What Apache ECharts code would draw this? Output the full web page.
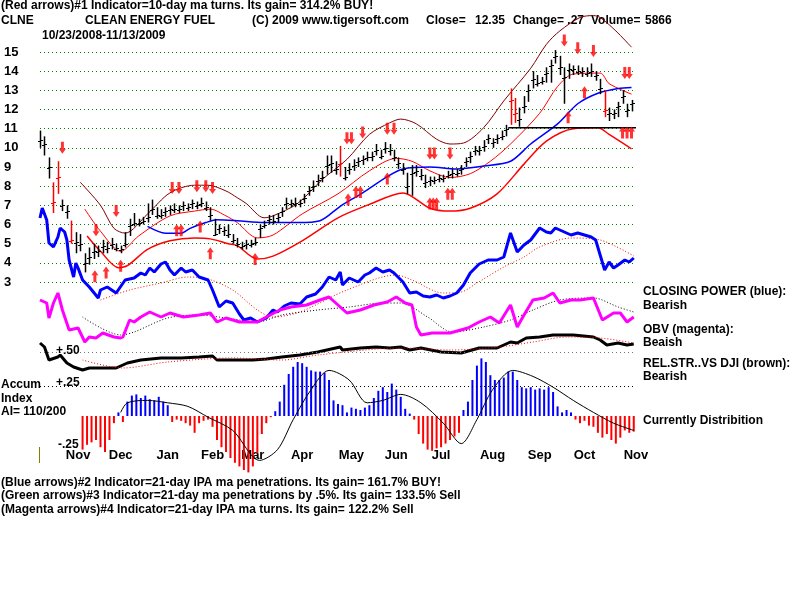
<!DOCTYPE html>
<html>
<head>
<meta charset="utf-8">
<script src="https://cdn.jsdelivr.net/npm/echarts/dist/echarts.min.js"></script>
<style>html,body{margin:0;padding:0;background:#fff}#main{width:800px;height:600px}</style>
</head>
<body>
<div id="main"></div>
<script>
// daily bars sampled every 2 trading days, x = trading day index
var barStep = 2;
var priceClose = [10.4,10.2,9.0,7.2,8.5,7.0,6.7,5.2,5.1,5.0,
  4.0,4.3,4.6,4.6,4.9,4.8,5.0,4.8,4.7,5.0,
  6.0,6.1,6.1,6.2,6.4,6.8,6.5,6.5,6.7,6.8,
  6.8,6.8,7.0,6.9,7.1,7.0,7.1,6.9,6.5,5.5,
  5.8,5.7,5.5,5.2,5.0,4.9,5.0,5.0,5.1,5.8,
  6.0,6.3,6.2,6.4,6.7,7.1,7.1,7.1,7.1,7.4,
  7.8,8.0,8.3,8.5,9.1,9.2,8.9,9.2,8.5,8.9,
  9.1,9.3,9.4,9.5,9.6,9.9,9.6,10.0,9.9,9.5,
  9.2,8.9,8.0,8.7,8.8,8.6,8.2,8.3,8.3,8.4,
  8.4,8.6,8.7,8.7,8.9,9.3,9.6,9.9,9.9,10.1,
  10.5,10.3,10.5,10.6,11.0,12.5,11.8,11.5,12.2,13.0,
  13.6,13.4,13.5,13.9,14.3,14.8,14.2,13.7,14.1,14.1,
  14.0,14.0,13.9,14.0,13.8,13.1,12.0,11.8,11.8,12.2,
  12.7,12.0,12.35];
var priceHigh = [10.9,10.6,9.5,8.2,9.3,7.3,7.0,6.2,5.6,5.5,
  4.5,4.8,5.0,4.9,5.2,5.1,5.3,5.0,4.9,5.6,
  6.3,6.6,6.3,6.4,7.1,7.3,6.9,6.8,6.9,7.0,
  7.1,7.0,7.2,7.1,7.3,7.2,7.4,7.2,6.9,6.3,
  6.0,5.9,6.0,5.5,5.3,5.1,5.2,5.2,5.3,6.0,
  6.2,6.5,6.5,6.6,6.9,7.4,7.3,7.4,7.3,7.6,
  8.0,8.3,8.6,8.8,9.6,9.6,9.3,10.1,9.0,9.2,
  9.4,9.5,9.6,9.8,9.8,10.2,9.9,10.3,10.2,9.9,
  9.5,9.2,8.7,9.1,9.1,8.9,8.6,8.5,8.5,8.6,
  8.6,8.8,8.9,8.9,9.1,9.5,9.8,10.1,10.1,10.4,
  10.7,10.5,10.7,10.9,11.2,13.1,12.6,12.1,12.7,13.3,
  14.0,13.8,13.7,14.2,14.6,15.1,14.8,14.2,14.4,14.3,
  14.3,14.2,14.2,14.4,14.0,13.6,13.0,12.1,12.0,12.4,
  13.0,12.3,12.5];
var priceLow = [10.0,9.6,8.4,6.6,7.6,6.7,6.3,5.0,4.5,4.6,
  3.5,3.9,4.2,4.3,4.5,4.5,4.7,4.6,4.5,4.8,
  5.4,5.9,5.9,6.0,6.1,6.5,6.3,6.3,6.4,6.5,
  6.6,6.6,6.7,6.7,6.8,6.8,6.9,6.7,6.2,5.4,
  5.5,5.4,5.3,5.0,4.8,4.7,4.7,4.8,4.9,5.3,
  5.8,6.0,6.0,6.1,6.4,6.8,6.9,6.9,6.9,7.1,
  7.5,7.7,8.0,8.2,8.6,8.7,8.6,8.5,8.3,8.6,
  8.8,9.0,9.1,9.3,9.3,9.6,9.4,9.7,9.6,9.3,
  8.9,8.6,7.6,7.5,8.5,8.3,7.9,8.0,8.1,8.2,
  8.2,8.4,8.4,8.5,8.6,9.0,9.2,9.6,9.6,9.8,
  10.2,10.0,10.2,10.4,10.6,11.2,11.3,11.1,11.8,12.4,
  13.1,13.2,13.3,13.4,13.4,14.4,13.8,12.3,13.6,13.8,
  13.8,13.7,13.7,13.7,13.5,12.8,11.6,11.4,11.5,11.6,
  12.3,11.6,11.9];
var redBarIdx = [3,4,7,67,105,106,126];

// bands and moving averages: [day index, price]
var upperBand = [[18,8.2],[27,7.0],[33,5.8],[38,5.55],[48,6.55],[58,7.65],[69,8.05],[75,8.05],[83,7.75],[88,7.4],[92,7.1],[100,6.35],[104,6.45],[115,7.1],[126,8.35],[137,9.4],[147,10.7],[156,11.3],[161,11.5],[168,11.25],[177,10.45],[183,10.2],[189,10.25],[198,11.05],[207,12.45],[219,14.15],[226,15.4],[232,16.1],[241,16.8],[247,16.9],[250,16.8],[257,16.1],[264,15.25]];
var midMA = [[20,6.8],[27,5.65],[36,4.6],[44,5.4],[58,6.45],[69,6.7],[76,6.8],[83,6.45],[88,6.1],[97,5.3],[104,5.45],[117,6.55],[133,7.6],[147,8.8],[159,9.45],[166,9.3],[174,8.8],[183,8.45],[192,8.65],[201,9.3],[210,10.2],[223,11.8],[231,13.2],[238,13.85],[250,13.9],[254,13.35],[264,12.8]];
var lowerBand = [[21,5.4],[27,4.6],[35,3.75],[39,3.85],[48,4.7],[58,5.15],[69,5.3],[76,5.25],[84,5.0],[88,4.9],[97,4.2],[104,4.35],[117,5.15],[133,6.35],[147,7.05],[162,7.65],[174,6.85],[183,6.7],[192,6.85],[204,7.6],[216,9.15],[226,10.35],[238,11.0],[249,11.05],[254,10.7],[264,9.95]];
var longMA = [[48,5.9],[56,5.55],[63,5.55],[67,5.8],[74,6.1],[79,6.25],[88,6.2],[100,6.1],[115,6.1],[125,6.2],[134,6.95],[144,7.65],[155,8.5],[162,8.9],[174,9.0],[186,8.9],[198,9.05],[210,9.3],[219,10.2],[231,11.25],[240,12.3],[249,12.85],[258,13.1],[264,13.15]];
var supportLine = [[209,11.05],[266,11.05]];

// signal arrows: [day index, price]
var downArrows = [[10,10.0],[25,5.7],[34,6.7],[59,7.9],[62,7.9],[70,8.0],[74,8.0],[77,7.9],[137,10.5],[139,10.5],[144,10.8],[155,11.0],[158,11.0],[174,9.7],[176,9.7],[183,9.7],[234,15.6],[240,15.2],[247,15.05],[261,13.9],[263,13.9]];
var upArrows = [[24.5,3.3],[29.5,3.5],[36,3.85],[61,5.7],[63,5.7],[71.5,5.9],[76,4.5],[96,4.2],[137.5,7.3],[141,7.7],[143,7.7],[155,8.4],[174,7.1],[175.5,7.1],[177,7.1],[182,7.6],[184,7.6],[235.7,11.6],[243,12.9],[260,10.8],[262,10.8],[264,10.8]];

// indicators: [day index, value]
var closingPower = [[0,112],[1,122],[3,110],[4,87],[6,83],[8,93],[9,102],[11,98],[12,90],[13,70],[15,53],[16,67],[17,62],[19,50],[22,43],[26,32],[27,40],[30,43],[34,37],[38,50],[42,52],[45,57],[47,55],[49,62],[51,58],[54,66],[56,68],[58,60],[60,55],[63,62],[65,58],[68,60],[71,53],[75,50],[77,40],[80,23],[83,29],[86,27],[89,16],[91,10],[94,12],[97,8],[101,12],[104,20],[106,18],[109,24],[112,27],[116,26],[119,33],[123,36],[126,43],[129,53],[132,50],[134,58],[135,45],[138,52],[142,48],[145,55],[147,57],[150,62],[153,58],[156,60],[158,57],[162,48],[165,37],[168,38],[171,34],[174,33],[177,35],[180,32],[183,34],[186,37],[189,45],[192,57],[196,66],[200,70],[204,70],[207,73],[210,97],[213,78],[216,85],[219,90],[223,102],[226,98],[228,97],[230,102],[232,100],[235,97],[237,95],[240,97],[243,95],[246,93],[248,90],[250,75],[252,60],[254,68],[256,62],[258,65],[261,70],[263,68],[265,72]];
var closingPowerMA = [[27,30],[40,40],[54,47],[66,53],[75,51],[86,40],[97,20],[104,13],[116,18],[137,40],[159,55],[166,50],[180,37],[188,38],[195,47],[207,63],[216,73],[223,83],[237,92],[250,90],[265,74]];
var obv = [[0,45],[3,42],[4,27],[6,42],[8,52],[10,35],[13,15],[17,17],[20,3],[22,8],[25,7],[28,12],[33,8],[36,7],[37,8],[40,25],[42,23],[45,28],[49,33],[54,28],[58,32],[64,28],[71,30],[76,32],[79,23],[83,27],[89,23],[97,23],[101,28],[107,35],[112,38],[119,40],[125,45],[129,48],[133,40],[137,32],[143,35],[149,40],[155,43],[159,48],[163,42],[166,40],[168,18],[170,10],[175,12],[183,12],[191,17],[196,23],[201,28],[205,22],[210,40],[213,18],[216,30],[220,45],[225,47],[229,52],[232,42],[237,45],[241,45],[247,47],[251,25],[256,32],[259,32],[262,23],[265,28]];
var obvMA = [[19,28],[36,10],[42,13],[57,27],[71,30],[83,27],[97,23],[108,30],[124,35],[138,38],[153,42],[161,42],[173,28],[184,13],[198,18],[210,25],[220,35],[232,45],[247,47],[258,38],[265,33]];
var relStrength = [[0,32],[2,28],[4,15],[8,18],[9,20],[12,12],[15,8],[19,5],[22,7],[27,7],[34,7],[39,12],[45,15],[54,17],[63,17],[71,18],[77,19],[79,15],[86,15],[95,15],[101,16],[108,18],[116,20],[124,23],[128,25],[134,28],[135,25],[143,27],[150,28],[156,27],[161,28],[165,25],[170,27],[179,23],[188,22],[196,27],[204,27],[210,33],[213,32],[217,37],[223,38],[229,40],[238,40],[247,38],[250,35],[253,30],[258,32],[262,30],[265,31]];
var relStrengthMA = [[19,15],[37,7],[57,13],[86,17],[108,15],[124,20],[161,27],[183,25],[205,28],[220,33],[235,38],[250,37],[265,32]];

// accumulation index, every 2 days from day 19
var accumStart = 19;
var accumValues = [-0.28,-0.24,-0.22,-0.2,-0.26,-0.3,-0.2,-0.06,0.03,-0.05,
  0.12,0.17,0.18,0.15,0.17,0.14,0.13,0.16,0.12,0.09,
  -0.05,-0.03,-0.04,-0.06,-0.08,-0.14,-0.06,-0.04,-0.03,-0.09,
  -0.2,-0.26,-0.3,-0.35,-0.39,-0.42,-0.45,-0.47,-0.42,-0.31,
  -0.15,-0.06,-0.01,0.04,0.12,0.26,0.35,0.41,0.45,0.44,
  0.41,0.38,0.37,0.37,0.36,0.3,0.13,0.1,0.09,0.03,
  0.07,0.06,0.05,0.07,0.09,0.15,0.21,0.24,0.2,0.27,
  0.22,0.16,0.06,0.02,-0.03,-0.15,-0.23,-0.28,-0.29,-0.27,
  -0.26,-0.23,-0.2,-0.17,-0.14,0.05,0.12,0.3,0.42,0.48,
  0.45,0.34,0.3,0.3,0.32,0.37,0.37,0.3,0.24,0.23,
  0.24,0.22,0.23,0.22,0.24,0.2,0.08,0.03,0.05,0.03,
  -0.03,-0.06,-0.04,-0.08,-0.09,-0.14,-0.18,-0.15,-0.2,-0.23,
  -0.18,-0.12,-0.14,-0.13];
var accumMA = [[36,0.03],[39,0.11],[48,0.13],[57,0.11],[66,0.08],[75,-0.01],[86,-0.12],[98,-0.37],[106,-0.28],[113,-0.03],[121,0.22],[129,0.38],[138,0.3],[146,0.11],[153,0.13],[161,0.18],[170,0.11],[180,-0.06],[188,-0.23],[195,-0.03],[202,0.22],[211,0.38],[220,0.33],[229,0.24],[238,0.13],[247,0.03],[256,-0.06],[265,-0.12]];

var monthIdx = [17,36,57,77,95,117,139,159,179,202,223,243,266];
var monthNames = ['Nov','Dec','Jan','Feb','Mar','Apr','May','Jun','Jul','Aug','Sep','Oct','Nov'];

var FF = '"Liberation Sans", Arial, sans-serif';
var FONT = 'bold 12px ' + FF;

var bars = priceClose.map(function (c, k) {
  return [k * barStep, priceHigh[k], priceLow[k], c, redBarIdx.indexOf(k) >= 0 ? 1 : 0];
});
var accumData = accumValues.map(function (v, i) { return [accumStart + i * barStep, v]; });

function txt(s, left, cy) {
  return { type: 'text', left: left, top: cy - 7, style: { text: s, font: FONT, fill: '#000' } };
}

var grids = [
  { left: 40, width: 596, top: 52, height: 230 },   // price
  { left: 40, width: 596, top: 205, height: 125 },  // closing power
  { left: 40, width: 596, top: 290, height: 55 },   // obv
  { left: 40, width: 596, top: 335, height: 40 },   // rel strength
  { left: 40, width: 596, top: 356, height: 120 },  // accum
  { left: 40, width: 596, top: 0, height: 447 }     // month labels
];

var xAxes = grids.map(function (g, i) {
  var ax = { gridIndex: i, type: 'value', min: 0, max: 266, show: i === 5 };
  if (i === 5) {
    ax.interval = 1;
    ax.axisLine = { show: false };
    ax.axisTick = { show: false };
    ax.splitLine = { show: false };
    ax.axisLabel = {
      margin: 2, color: '#000', fontSize: 13, fontWeight: 'bold', fontFamily: FF,
      showMinLabel: true, showMaxLabel: true,
      formatter: function (v) {
        var i2 = monthIdx.indexOf(v);
        return i2 >= 0 ? monthNames[i2] : '';
      }
    };
  }
  return ax;
});

var yAxes = [
  { gridIndex: 0, type: 'value', min: 3, max: 15, interval: 1,
    axisLine: { show: false }, axisTick: { show: false },
    axisLabel: { align: 'left', margin: 36, color: '#000', fontSize: 13, fontWeight: 'bold', fontFamily: FF },
    splitLine: { lineStyle: { type: [1, 3], color: '#008000', width: 1 } } },
  { gridIndex: 1, type: 'value', min: 0, max: 125, show: false },
  { gridIndex: 2, type: 'value', min: 0, max: 55, show: false },
  { gridIndex: 3, type: 'value', min: 0, max: 40, show: false },
  { gridIndex: 4, type: 'value', min: -0.5, max: 0.5, show: false },
  { gridIndex: 5, type: 'value', min: 0, max: 1, show: false }
];

function line(data, gi, color, width, type, smooth, z) {
  return {
    type: 'line', xAxisIndex: gi, yAxisIndex: gi, data: data, showSymbol: false, symbol: 'none',
    smooth: smooth ? 0.3 : false, clip: false, silent: true, z: z || 2,
    lineStyle: { color: color, width: width, type: type || 'solid' }
  };
}

var chart = echarts.init(document.getElementById('main'), null, { renderer: 'canvas' });
chart.setOption({
  animation: false,
  backgroundColor: '#fff',
  grid: grids,
  xAxis: xAxes,
  yAxis: yAxes,
  series: [
    line(closingPowerMA, 1, '#ff0000', 1, [1, 2], true, 1),
    line(closingPower, 1, '#0000ff', 3, 'solid', false, 2),
    line(obvMA, 2, '#000', 1, [1, 2], true, 1),
    line(obv, 2, '#ff00ff', 3, 'solid', false, 2),
    (function () {
      var s = line(relStrength, 3, '#000', 3, 'solid', false, 2);
      s.markLine = { symbol: 'none', silent: true, label: { show: false },
        lineStyle: { type: [1, 3], color: '#777', width: 1 }, data: [{ yAxis: 23 }] };
      return s;
    })(),
    line(relStrengthMA, 3, '#ff0000', 1, [1, 2], true, 3),
    {
      type: 'bar', xAxisIndex: 4, yAxisIndex: 4, data: accumData, barWidth: 2, silent: true,
      itemStyle: { color: function (p) { return p.value[1] >= 0 ? '#0000ff' : '#ff0000'; } },
      markLine: { symbol: 'none', silent: true, label: { show: false },
        lineStyle: { type: [1, 3], color: '#000', width: 1 }, data: [{ yAxis: 0.25 }] }
    },
    line(accumMA, 4, '#000', 1, 'solid', true, 3),
    line(upperBand, 0, '#800000', 1, 'solid', true, 3),
    line(midMA, 0, '#ff0000', 1, 'solid', true, 3),
    line(lowerBand, 0, '#ff0000', 1.5, 'solid', true, 3),
    line(longMA, 0, '#0000ff', 1.5, 'solid', true, 3),
    line(supportLine, 0, '#000', 1.5, 'solid', false, 4),
    {
      type: 'custom', xAxisIndex: 0, yAxisIndex: 0, data: bars, clip: false, silent: true, z: 5,
      encode: { x: 0, y: [1, 2, 3] },
      renderItem: function (params, api) {
        var x = api.value(0);
        var pH = api.coord([x, api.value(1)]);
        var pL = api.coord([x, api.value(2)]);
        var pC = api.coord([x, api.value(3)]);
        var col = api.value(4) ? '#ff0000' : '#000';
        var px = Math.round(pH[0]) + 0.5;
        var cy = Math.round(pC[1]) + 0.5;
        return { type: 'group', children: [
          { type: 'line', shape: { x1: px, y1: pH[1], x2: px, y2: pL[1] }, style: { stroke: col, lineWidth: 1.5 } },
          { type: 'line', shape: { x1: px, y1: cy, x2: px + 2.5, y2: cy }, style: { stroke: col, lineWidth: 1 } },
          { type: 'line', shape: { x1: px - 2.5, y1: cy + 1, x2: px, y2: cy + 1 }, style: { stroke: col, lineWidth: 1 } }
        ] };
      }
    },
    {
      type: 'scatter', xAxisIndex: 0, yAxisIndex: 0, data: downArrows, clip: false, silent: true, z: 6,
      symbol: 'path://M2,0 L5,0 L5,7 L7,7 L3.5,12 L0,7 L2,7 Z', symbolSize: [7, 12],
      itemStyle: { color: '#ff0000' }
    },
    {
      type: 'scatter', xAxisIndex: 0, yAxisIndex: 0, data: upArrows, clip: false, silent: true, z: 6,
      symbol: 'path://M3.5,0 L7,5 L5,5 L5,12 L2,12 L2,5 L0,5 Z', symbolSize: [7, 12],
      itemStyle: { color: '#ff0000' }
    }
  ],
  graphic: [
    txt('(Red arrows)#1 Indicator=10-day ma turns. Its gain= 314.2% BUY!', 1, 7),
    txt('CLNE', 1, 22),
    txt('CLEAN ENERGY FUEL', 85, 22),
    txt('(C) 2009 www.tigersoft.com', 252, 22),
    txt('Close=', 426, 22),
    txt('12.35', 475, 22),
    txt('Change= .27', 513, 22),
    txt('Volume=', 591, 22),
    txt('5866', 645, 22),
    txt('10/23/2008-11/13/2009', 42, 37),
    txt('CLOSING POWER (blue):', 643, 293),
    txt('Bearish', 643, 307),
    txt('OBV (magenta):', 643, 331),
    txt('Beaish', 643, 344),
    txt('REL.STR..VS DJI (brown):', 643, 365),
    txt('Bearish', 643, 378),
    txt('Currently Distribition', 643, 422),
    txt('Accum', 1, 386),
    txt('Index', 1, 400),
    txt('AI= 110/200', 1, 413),
    txt('+.50', 56, 352),
    txt('+.25', 56, 384),
    txt('-.25', 58, 446),
    txt('(Blue arrows)#2 Indicator=21-day IPA ma penetrations. Its gain= 161.7% BUY!', 1, 484),
    txt('(Green arrows)#3 Indicator=21-day ma penetrations by .5%. Its gain= 133.5% Sell', 1, 497),
    txt('(Magenta arrows)#4 Indicator=21-day IPA ma turns. Its gain= 122.2% Sell', 1, 511),
    { type: 'line', shape: { x1: 39.5, y1: 447, x2: 39.5, y2: 463 }, style: { stroke: '#808000', lineWidth: 1 } }
  ]
});
</script>
</body>
</html>
